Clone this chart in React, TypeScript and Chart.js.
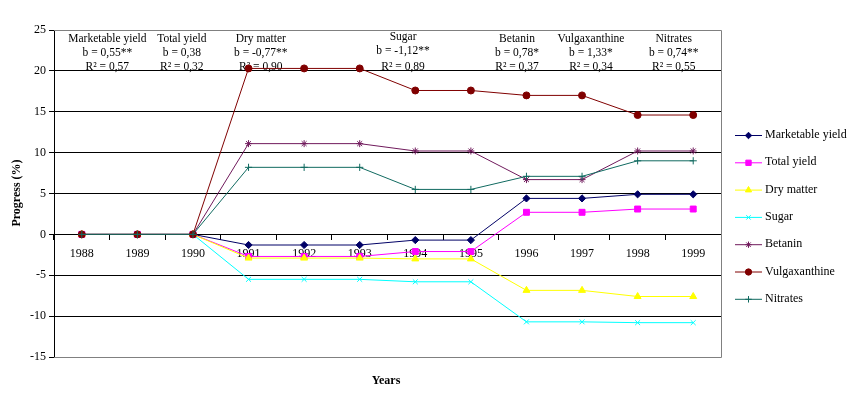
import { useEffect, useRef } from 'react';
import { Chart, registerables } from 'chart.js';
import { drawPoint } from 'chart.js/helpers';

Chart.register(...registerables);

const years = ['1988', '1989', '1990', '1991', '1992', '1993', '1994', '1995', '1996', '1997', '1998', '1999'];
const marketableYield = [0, 0, 0, -1.3, -1.3, -1.3, -0.7, -0.7, 4.4, 4.4, 4.9, 4.9];
const totalYield = [0, 0, 0, -2.7, -2.7, -2.7, -2.1, -2.1, 2.7, 2.7, 3.1, 3.1];
const dryMatter = [0, 0, 0, -2.9, -2.9, -2.9, -3.0, -3.0, -6.85, -6.85, -7.6, -7.6];
const sugar = [0, 0, 0, -5.5, -5.5, -5.5, -5.8, -5.8, -10.7, -10.7, -10.8, -10.8];
const betanin = [0, 0, 0, 11.1, 11.1, 11.1, 10.2, 10.2, 6.7, 6.7, 10.2, 10.2];
const vulgaxanthine = [0, 0, 0, 20.3, 20.3, 20.3, 17.6, 17.6, 17.0, 17.0, 14.6, 14.6];
const nitrates = [0, 0, 0, 8.2, 8.2, 8.2, 5.5, 5.5, 7.1, 7.1, 9.0, 9.0];

const seriesNames = ['Marketable yield', 'Total yield', 'Dry matter', 'Sugar', 'Betanin', 'Vulgaxanthine', 'Nitrates'];
const seriesData = [marketableYield, totalYield, dryMatter, sugar, betanin, vulgaxanthine, nitrates];
const seriesColors = ['#000066', '#FF00FF', '#FFFF00', '#00FFFF', '#701A5C', '#800000', '#106A60'];
const seriesMarkers = ['rectRot', 'rect', 'triangle', 'crossRot', 'star', 'circle', 'cross'];
const markerRadius = [3.6, 4.2, 4, 3.5, 3.5, 3.5, 3.6];

const annotationTitles = ['Marketable yield', 'Total yield', 'Dry matter', 'Sugar', 'Betanin', 'Vulgaxanthine', 'Nitrates'];
const annotationB = ['b = 0,55**', 'b = 0,38', 'b = -0,77**', 'b = -1,12**', 'b = 0,78*', 'b = 1,33*', 'b = 0,74**'];
const annotationR2 = ['R² = 0,57', 'R² = 0,32', 'R² = 0,90', 'R² = 0,89', 'R² = 0,37', 'R² = 0,34', 'R² = 0,55'];
const annotationPos = [0.46, 1.8, 3.22, 5.78, 7.83, 9.16, 10.65];

const yMin = -15;
const yMax = 25;
const yStep = 5;

const SERIF = '"Liberation Serif", "Times New Roman", serif';

export default function App() {
  const canvasRef = useRef<HTMLCanvasElement | null>(null);

  useEffect(() => {
    const canvas = canvasRef.current;
    if (!canvas) return;

    const textPlugin = {
      id: 'textPlugin',
      beforeDatasetsDraw(chart: any) {
        const ctx = chart.ctx;
        const x = chart.scales.x;
        ctx.save();
        ctx.fillStyle = '#000';
        ctx.font = `11.5px ${SERIF}`;
        ctx.textAlign = 'center';
        ctx.textBaseline = 'middle';
        annotationTitles.forEach((t, i) => {
          const cx = x.getPixelForValue(annotationPos[i]);
          const isSugar = i === 3;
          ctx.fillText(t, cx, isSugar ? 37 : 38.5);
          ctx.fillText(annotationB[i], cx, isSugar ? 50.5 : 53);
          ctx.fillText(annotationR2[i], cx, 66.5);
        });
        ctx.restore();
      },
      afterDraw(chart: any) {
        const ctx = chart.ctx;
        const a = chart.chartArea;
        ctx.save();
        ctx.strokeStyle = '#808080';
        ctx.lineWidth = 1;
        ctx.beginPath();
        ctx.moveTo(a.left, Math.round(a.top) + 0.5);
        ctx.lineTo(Math.round(a.right) + 0.5, Math.round(a.top) + 0.5);
        ctx.lineTo(Math.round(a.right) + 0.5, Math.round(a.bottom) + 0.5);
        ctx.lineTo(a.left, Math.round(a.bottom) + 0.5);
        ctx.stroke();

        ctx.fillStyle = '#000';
        ctx.font = `bold 12px ${SERIF}`;
        ctx.textAlign = 'center';
        ctx.textBaseline = 'middle';
        ctx.fillText('Years', 386, 380.5);
        ctx.save();
        ctx.translate(17, 193);
        ctx.rotate(-Math.PI / 2);
        ctx.fillText('Progress (%)', 0, 0);
        ctx.restore();

        const lx1 = 735;
        const lx2 = 762;
        const ly0 = 135;
        const lstep = 27.3;
        ctx.font = `12px ${SERIF}`;
        ctx.textAlign = 'left';
        seriesNames.forEach((name, i) => {
          const y = ly0 + i * lstep;
          ctx.strokeStyle = seriesColors[i];
          ctx.fillStyle = seriesColors[i];
          ctx.lineWidth = 1;
          ctx.beginPath();
          ctx.moveTo(lx1, y + 0.5);
          ctx.lineTo(lx2, y + 0.5);
          ctx.stroke();
          drawPoint(ctx, { pointStyle: seriesMarkers[i], radius: markerRadius[i] * 0.9, rotation: 0, borderWidth: 1 } as any, (lx1 + lx2) / 2, y + 0.5);
          ctx.fillStyle = '#000';
          ctx.fillText(name, 765, y);
        });
        ctx.restore();
      },
    };

    const chart = new Chart(canvas, {
      type: 'line',
      data: {
        labels: years,
        datasets: seriesNames.map((name, i) => ({
          label: name,
          data: seriesData[i],
          borderColor: seriesColors[i],
          backgroundColor: seriesColors[i],
          pointBackgroundColor: seriesColors[i],
          pointBorderColor: seriesColors[i],
          pointStyle: seriesMarkers[i] as any,
          pointRadius: markerRadius[i],
          pointBorderWidth: 1,
          borderWidth: 1,
          tension: 0,
          fill: false,
          order: seriesNames.length - i,
        })),
      },
      options: {
        responsive: false,
        animation: false,
        devicePixelRatio: 1,
        layout: { padding: { left: 0, top: 30, right: 135, bottom: 41 } },
        plugins: {
          legend: { display: false },
          tooltip: { enabled: false },
          title: { display: false },
        },
        scales: {
          x: {
            type: 'category',
            position: { y: 0 } as any,
            offset: true,
            grid: {
              display: true,
              drawOnChartArea: false,
              drawTicks: true,
              tickLength: 5,
              color: '#000',
              offset: true,
            },
            border: { display: true, color: '#000', width: 1 },
            ticks: {
              color: '#000',
              font: { family: SERIF, size: 12 },
              padding: 7,
              maxRotation: 0,
              autoSkip: false,
            },
          },
          y: {
            type: 'linear',
            position: 'left',
            min: yMin,
            max: yMax,
            afterFit: (scale: any) => {
              scale.width = 54;
            },
            grid: {
              display: true,
              drawOnChartArea: true,
              drawTicks: true,
              tickLength: 5,
              color: (c: any) => (c.tick && (c.tick.value === yMax || c.tick.value === yMin) ? '#808080' : '#000'),
              tickColor: '#000',
            },
            border: { display: true, color: '#000', width: 1 },
            ticks: {
              stepSize: yStep,
              color: '#000',
              font: { family: SERIF, size: 12 },
              padding: 3,
            },
          },
        },
      },
      plugins: [textPlugin],
    });

    return () => chart.destroy();
  }, []);

  return (
    <div style={{ position: 'absolute', left: 0, top: 0, width: 856, height: 398, background: '#fff' }}>
      <canvas ref={canvasRef} width={856} height={398} style={{ width: 856, height: 398 }} />
    </div>
  );
}
